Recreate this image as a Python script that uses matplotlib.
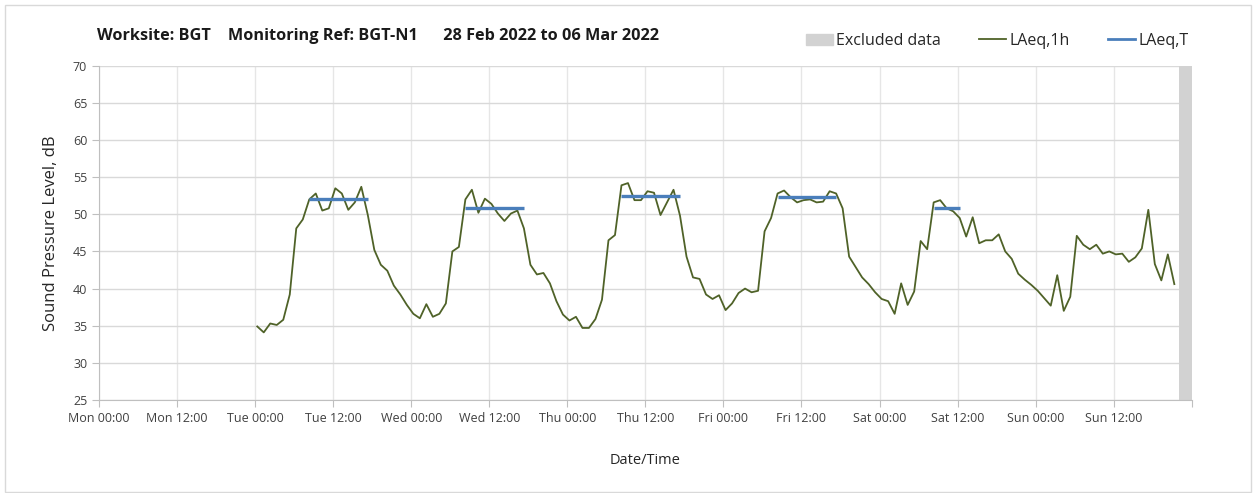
import numpy as np
import matplotlib
matplotlib.use("Agg")
import matplotlib.pyplot as plt
from matplotlib.patches import Rectangle, Patch
from matplotlib.lines import Line2D

plt.rcParams['font.family'] = ['Open Sans', 'DejaVu Sans']

# hourly LAeq,1h readings, first one at Tue 00:20 (hours from Mon 00:00)
start_hour = 24.33
laeq_1h = [
    34.9, 34.1, 35.3, 35.1, 35.8, 39.2, 48.1, 49.3, 52.0, 52.8,
    50.5, 50.8, 53.5, 52.8, 50.6, 51.6, 53.7, 49.9, 45.2, 43.2,
    42.4, 40.4, 39.2, 37.8, 36.6, 36.0, 37.9, 36.2, 36.6, 38.0,
    45.0, 45.6, 52.0, 53.3, 50.2, 52.1, 51.4, 50.1, 49.1, 50.1,
    50.5, 48.1, 43.2, 41.9, 42.1, 40.7, 38.3, 36.5, 35.7, 36.2,
    34.7, 34.7, 35.9, 38.5, 46.5, 47.2, 53.9, 54.2, 51.9, 51.9,
    53.1, 52.9, 49.9, 51.6, 53.3, 49.8, 44.3, 41.5, 41.3, 39.2,
    38.6, 39.1, 37.1, 38.0, 39.4, 40.0, 39.5, 39.7, 47.7, 49.5,
    52.8, 53.2, 52.3, 51.6, 51.9, 52.0, 51.6, 51.7, 53.1, 52.8,
    50.8, 44.3, 42.9, 41.5, 40.6, 39.5, 38.6, 38.3, 36.6, 40.7,
    37.8, 39.6, 46.4, 45.3, 51.6, 51.9, 50.8, 50.4, 49.5, 47.0,
    49.6, 46.1, 46.5, 46.5, 47.3, 45.0, 44.0, 42.0, 41.2, 40.5,
    39.7, 38.7, 37.7, 41.8, 37.0, 38.9, 47.1, 45.9, 45.3, 45.9,
    44.7, 45.0, 44.6, 44.7, 43.6, 44.2, 45.4, 50.6, 43.3, 41.1,
    44.6, 40.6,
]

# daytime LAeq,T: first and last hourly index, level
laeq_t_start = [8, 32, 56, 80, 104]
laeq_t_end = [17, 41, 65, 89, 108]
laeq_t = [52.0, 50.9, 52.4, 52.3, 50.8]

excluded = (166, 168)

tick_labels = ["Mon 00:00", "Mon 12:00", "Tue 00:00", "Tue 12:00", "Wed 00:00",
               "Wed 12:00", "Thu 00:00", "Thu 12:00", "Fri 00:00", "Fri 12:00",
               "Sat 00:00", "Sat 12:00", "Sun 00:00", "Sun 12:00", ""]

hours = start_hour + np.arange(len(laeq_1h))

fig = plt.figure(figsize=(12.53, 4.93), dpi=100)
ax = fig.add_axes([99 / 1253, 1 - 400 / 493, (1191.7 - 99) / 1253, (400 - 65.7) / 493])

green = "#4f6228"
blue = "#4a7ebb"
grey = "#d2d2d2"

ax.axvspan(excluded[0], excluded[1], color=grey, lw=0, zorder=1)
ax.plot(hours, laeq_1h, color=green, lw=1.3, zorder=3)
for s, e, v in zip(laeq_t_start, laeq_t_end, laeq_t):
    ax.plot([hours[s], hours[e]], [v, v], color=blue, lw=2.4, zorder=4,
            solid_capstyle="butt")

ax.set_xlim(0, 168)
ax.set_ylim(25, 70)
ax.set_xticks(np.arange(0, 169, 12))
ax.set_xticklabels(tick_labels, fontsize=9, color="#404040")
ax.set_yticks(np.arange(25, 71, 5))
ax.tick_params(axis="y", labelsize=9, labelcolor="#404040", length=5, color="#bfbfbf")
ax.tick_params(axis="x", length=5, color="#bfbfbf", pad=4)

ax.grid(axis="y", color="#d9d9d9", lw=1)
ax.grid(axis="x", color="#e6e6e6", lw=1)
ax.set_axisbelow(True)
for side in ["top", "right"]:
    ax.spines[side].set_visible(False)
for side in ["left", "bottom"]:
    ax.spines[side].set_color("#bfbfbf")

ax.set_ylabel("Sound Pressure Level, dB", fontsize=12, color="#262626", labelpad=10)
ax.set_xlabel("Date/Time", fontsize=10.5, color="#262626", labelpad=20)

fig.text(97 / 1253, 1 - 36 / 493,
         "Worksite: BGT    Monitoring Ref: BGT-N1      28 Feb 2022 to 06 Mar 2022",
         fontsize=11.7, fontweight="bold", color="#1a1a1a", va="center")

handles = [Patch(color=grey, label="Excluded data"),
           Line2D([], [], color=green, lw=1.3, label="LAeq,1h"),
           Line2D([], [], color=blue, lw=2, label="LAeq,T")]
fig.legend(handles=handles, loc="center right", bbox_to_anchor=(1203 / 1253, 1 - 41 / 493),
           ncol=3, frameon=False, fontsize=11.5, handlelength=1.7, handletextpad=0.2,
           columnspacing=2.4, labelcolor="#262626")

fig.patches.append(Rectangle((5 / 1253, 1 / 493), 1246 / 1253, 487 / 493,
                             transform=fig.transFigure, fill=False,
                             edgecolor="#d9d9d9", lw=1))

fig.savefig("out.png", dpi=100)
